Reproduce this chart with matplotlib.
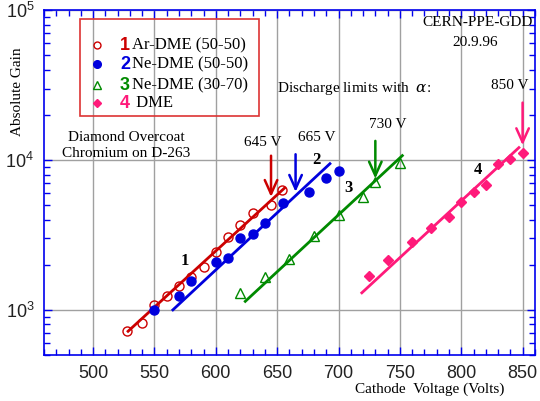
import matplotlib
matplotlib.use("Agg")
import matplotlib.pyplot as plt
from matplotlib.patches import Rectangle
from matplotlib.ticker import LogLocator, MultipleLocator, LogFormatterMathtext, NullFormatter

plt.rcParams["mathtext.fontset"] = "custom"
plt.rcParams["mathtext.rm"] = "Liberation Sans"
plt.rcParams["mathtext.it"] = "Liberation Sans"

SERIF = "Liberation Serif"
SANS = "Liberation Sans"

ar_v = [528, 540, 550, 560, 570, 580, 590, 600, 610, 620, 630, 645, 654]
ar_g = [720, 820, 1070, 1230, 1450, 1650, 1920, 2420, 3050, 3670, 4400, 5030, 6340]

ne50_v = [550, 570, 580, 600, 610, 620, 630, 640, 655, 676, 690, 700]
ne50_g = [1000, 1230, 1550, 2100, 2210, 3030, 3230, 3800, 5170, 6080, 7590, 8400]

ne30_v = [620, 640, 660, 680, 700, 720, 730, 750]
ne30_g = [1300, 1650, 2200, 3100, 4320, 5670, 7090, 9550]

dme_v = [725, 740, 760, 775, 790, 800, 810, 820, 830, 840, 850]
dme_g = [1680, 2160, 2830, 3520, 4170, 5210, 6080, 6840, 9400, 10200, 11140]

# fitted lines (end points)
ar_fit_v, ar_fit_g = [528.5, 656], [720, 6500]
ne50_fit_v, ne50_fit_g = [565, 693], [1000, 9450]
ne30_fit_v, ne30_fit_g = [624, 752], [1140, 10700]
dme_fit_v, dme_fit_g = [719, 847], [1300, 12100]

# discharge limits: voltage, arrow tail gain, arrow head gain, label pos
limit_v = [645, 665, 730, 850]
limit_tail = [11150, 11400, 14000, 25200]
limit_head = [5430, 5870, 7200, 12020]
limit_lbl_x = [638.5, 682.6, 740.4, 839.6]
limit_lbl_y = [13030, 14170, 17170, 31400]

red, blue, green, pink = "#cc0000", "#0000dd", "#008a00", "#ff1a7a"
colors = [red, blue, green, pink]

fig = plt.figure(figsize=(5.4, 4.01), dpi=100)
ax = fig.add_axes([0.0815, 0.1147, 0.909, 0.860])

ax.set_yscale("log")
ax.set_xlim(460, 860)
ax.set_ylim(500, 1e5)

ax.plot(ar_fit_v, ar_fit_g, c=red, lw=2, zorder=3)
ax.plot(ne50_fit_v, ne50_fit_g, c=blue, lw=2, zorder=3)
ax.plot(ne30_fit_v, ne30_fit_g, c=green, lw=2, zorder=3)
ax.plot(dme_fit_v, dme_fit_g, c=pink, lw=2, zorder=3)

ax.plot(ar_v, ar_g, "o", mfc="none", mec=red, ms=6.5, mew=1, zorder=4)
ax.plot(ne50_v, ne50_g, "o", c=blue, ms=6.5, zorder=4)
ax.plot(ne30_v, ne30_g, "^", mfc="none", mec=green, ms=6.5, mew=1, zorder=4)
ax.plot(dme_v, dme_g, "D", c=pink, ms=5.5, zorder=4)

for v, t, h, lx, ly, c in zip(limit_v, limit_tail, limit_head, limit_lbl_x, limit_lbl_y, colors):
    ax.annotate("", xy=(v, h), xytext=(v, t),
                arrowprops=dict(arrowstyle="->,head_length=1.0,head_width=0.45", color=c, lw=1.8),
                zorder=5)
    ax.text(lx, ly, "%d V" % v, family=SERIF, fontsize=11, ha="center", va="center")

ax.text(574.7, 2130, "1", family=SERIF, fontsize=12, weight="bold", ha="center", va="center")
ax.text(682, 10050, "2", family=SERIF, fontsize=12, weight="bold", ha="center", va="center")
ax.text(707.8, 6500, "3", family=SERIF, fontsize=12, weight="bold", ha="center", va="center")
ax.text(813.8, 8610, "4", family=SERIF, fontsize=12, weight="bold", ha="center", va="center")

# axes styling
ax.xaxis.set_major_locator(MultipleLocator(50))
ax.xaxis.set_minor_locator(MultipleLocator(10))
ax.yaxis.set_major_locator(LogLocator(base=10))
ax.yaxis.set_minor_locator(LogLocator(base=10, subs=range(2, 10)))
ax.yaxis.set_major_formatter(LogFormatterMathtext())
ax.yaxis.set_minor_formatter(NullFormatter())
ax.set_xticks([500, 550, 600, 650, 700, 750, 800, 850])
ax.grid(True, which="major", color="#a0a0a0", lw=1)
ax.set_axisbelow(True)
for s in ax.spines.values():
    s.set_color("#0000ee")
    s.set_linewidth(1.2)
ax.tick_params(which="both", direction="in", top=True, right=True, color="#0000ee",
               labelcolor="#222222", labelsize=13, pad=7)
ax.tick_params(which="major", length=6, width=1)
ax.tick_params(which="minor", length=4, width=1)
for lbl in ax.get_xticklabels() + ax.get_yticklabels():
    lbl.set_family(SANS)

# legend drawn by hand
ax.add_patch(Rectangle((0.0733, 0.693), 0.3647, 0.281, transform=ax.transAxes,
                       fill=False, ec="#dd3333", lw=1.2, zorder=6))
leg_y = [0.8986, 0.8435, 0.7826, 0.7296]
leg_txt = ["Ar-DME (50-50)", "Ne-DME (50-50)", "Ne-DME (30-70)", " DME"]
leg_mk = [dict(marker="o", mfc="none", mec=red, ms=5, mew=1),
          dict(marker="o", mfc=blue, mec=blue, ms=5.5),
          dict(marker="^", mfc="none", mec=green, ms=5.5, mew=1),
          dict(marker="D", mfc=pink, mec=pink, ms=4.5)]
for i in range(4):
    ax.plot([0.1073], [leg_y[i]], transform=ax.transAxes, clip_on=False, ls="none", **leg_mk[i])
    ax.text(0.165, leg_y[i], str(i + 1), transform=ax.transAxes, color=colors[i],
            family=SANS, weight="bold", fontsize=13, ha="center", va="center")
    ax.text(0.1786, leg_y[i], leg_txt[i], transform=ax.transAxes,
            family=SERIF, fontsize=12, ha="left", va="center")

fig.text(126 / 540, 1 - 137.7 / 401, "Diamond Overcoat", family=SERIF, fontsize=11, ha="center", va="center")
fig.text(126 / 540, 1 - 153.3 / 401, "Chromium on D-263", family=SERIF, fontsize=11, ha="center", va="center")
fig.text(533 / 540, 1 - 22.7 / 401, "CERN-PPE-GDD", family=SERIF, fontsize=11, ha="right", va="center")
fig.text(475 / 540, 1 - 42.7 / 401, "20.9.96", family=SERIF, fontsize=11, ha="center", va="center")
fig.text(276.7 / 540, 1 - 88.3 / 401, r"Discharge limits with  $\alpha$:", family=SERIF,
         fontsize=11, ha="left", va="center", math_fontfamily="dejavuserif")
fig.text(18 / 540, 1 - 92 / 401, "Absolute Gain", family=SERIF, fontsize=11, rotation=90,
         ha="center", va="center")
fig.text(430 / 540, 1 - 389 / 401, "Cathode  Voltage (Volts)", family=SERIF, fontsize=11,
         ha="center", va="center")

fig.savefig("out.png", dpi=100)
